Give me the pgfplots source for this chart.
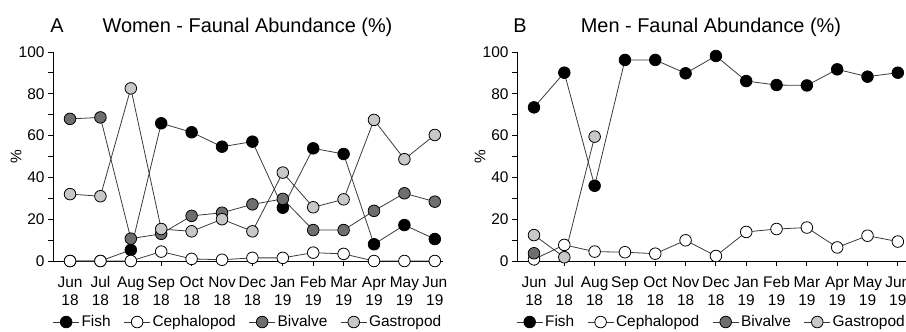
\documentclass[border=0pt]{standalone}
\usepackage{pgfplots}
\pgfplotsset{compat=1.18}
\usepackage{fontspec}
\setmainfont{Liberation Sans}
\definecolor{linec}{HTML}{3A3A3A}
\definecolor{bival}{HTML}{6E6E6E}
\definecolor{gastro}{HTML}{C8C8C8}
\newcommand{\ml}[2]{\rule{0pt}{12.5bp}#1\\[3bp]\rule[-4bp]{0pt}{4bp}#2}
\pgfplotsset{
  myax/.style={
    scale only axis, width=390bp, height=209bp,
    xmin=-0.56, xmax=12.27, ymin=0, ymax=100,
    axis x line*=bottom, axis y line*=left,
    axis line style={-, black, line width=0.9pt},
    xtick={0,...,12},
    xticklabels={{\ml{Jun}{18}},{\ml{Jul}{18}},{\ml{Aug}{18}},{\ml{Sep}{18}},{\ml{Oct}{18}},{\ml{Nov}{18}},{\ml{Dec}{18}},{\ml{Jan}{19}},{\ml{Feb}{19}},{\ml{Mar}{19}},{\ml{Apr}{19}},{\ml{May}{19}},{\ml{Jun}{19}}},
    xticklabel style={anchor=north, align=center, font=\fontsize{15.5}{15}\selectfont, inner sep=0bp, yshift=-9bp},
    yticklabel style={font=\fontsize{15.5}{15}\selectfont},
    ytick={0,20,...,100}, minor ytick={10,30,...,90},
    tick align=outside, major tick length=5bp, minor tick length=5bp,
    tick style={black, line width=0.9pt},
    /pgf/number format/assume math mode=true,
    clip=false,
    ylabel={\%},
    ylabel style={at={(axis description cs:-0.095,0.5)}, anchor=center, font=\fontsize{15.5}{15}\selectfont},
    legend columns=4,
    legend style={at={(0.5,-0.292)}, anchor=center, draw=none, fill=none,
      font=\fontsize{15.5}{15}\selectfont, inner sep=0pt,
      /tikz/every even column/.append style={column sep=11bp}},
    legend cell align=left,
    legend image code/.code={\draw[mark repeat=2,mark phase=2] plot coordinates {(0bp,0bp)(13bp,0bp)(26bp,0bp)};},
  },
  ser/.style={color=linec, line width=0.8pt, mark=*, mark size=5.8bp,
    mark options={draw=black, fill=#1, line width=0.8pt, solid}},
}
\begin{document}
\begin{tikzpicture}[x=1bp,y=1bp]
\useasboundingbox (0,0) rectangle (906,331);
\begin{axis}[myax, at={(53bp,70bp)}, anchor=south west]
\addplot[ser=black] coordinates {(0,0)(1,0)(2,5.3)(3,65.9)(4,61.6)(5,54.7)(6,57.1)(7,25.5)(8,53.9)(9,51.2)(10,8.0)(11,17.2)(12,10.5)};
\addlegendentry{Fish}
\addplot[ser=white] coordinates {(0,0)(1,0)(2,0)(3,4.5)(4,1)(5,0.6)(6,1.5)(7,1.5)(8,4)(9,3.4)(10,0)(11,0)(12,0)};
\addlegendentry{Cephalopod}
\addplot[ser=bival] coordinates {(0,68)(1,68.7)(2,10.7)(3,13)(4,21.6)(5,23.1)(6,27.1)(7,29.7)(8,14.8)(9,14.8)(10,24)(11,32.4)(12,28.4)};
\addlegendentry{Bivalve}
\addplot[ser=gastro] coordinates {(0,32)(1,31)(2,82.6)(3,15.3)(4,14.2)(5,20)(6,14.2)(7,42.3)(8,25.7)(9,29.5)(10,67.5)(11,48.7)(12,60.3)};
\addlegendentry{Gastropod}
\end{axis}
\begin{axis}[myax, at={(517bp,70bp)}, anchor=south west, width=389bp]
\addplot[ser=black] coordinates {(0,73.5)(1,90.1)(2,36)(3,96.2)(4,96.2)(5,89.8)(6,98.1)(7,86.1)(8,84.2)(9,84)(10,91.7)(11,88.2)(12,90.1)};
\addlegendentry{Fish}
\addplot[ser=white] coordinates {(0,0.8)(1,7.7)(2,4.5)(3,4.2)(4,3.5)(5,9.9)(6,2.4)(7,13.9)(8,15.3)(9,16)(10,6.5)(11,12.1)(12,9.3)};
\addlegendentry{Cephalopod}
\addplot[ser=bival] coordinates {(0,3.7)};
\addlegendentry{Bivalve}
\addplot[ser=gastro] coordinates {(0,12.4)(1,1.8)(2,59.5)};
\addlegendentry{Gastropod}
\end{axis}
\node[anchor=base, font=\fontsize{20}{22}\selectfont] at (57,299) {A};
\node[anchor=base, font=\fontsize{20}{22}\selectfont] at (247.5,299) {Women - Faunal Abundance (\%)};
\node[anchor=base, font=\fontsize{20}{22}\selectfont] at (520,299) {B};
\node[anchor=base, font=\fontsize{20}{22}\selectfont] at (711,299) {Men - Faunal Abundance (\%)};
\end{tikzpicture}
\end{document}
